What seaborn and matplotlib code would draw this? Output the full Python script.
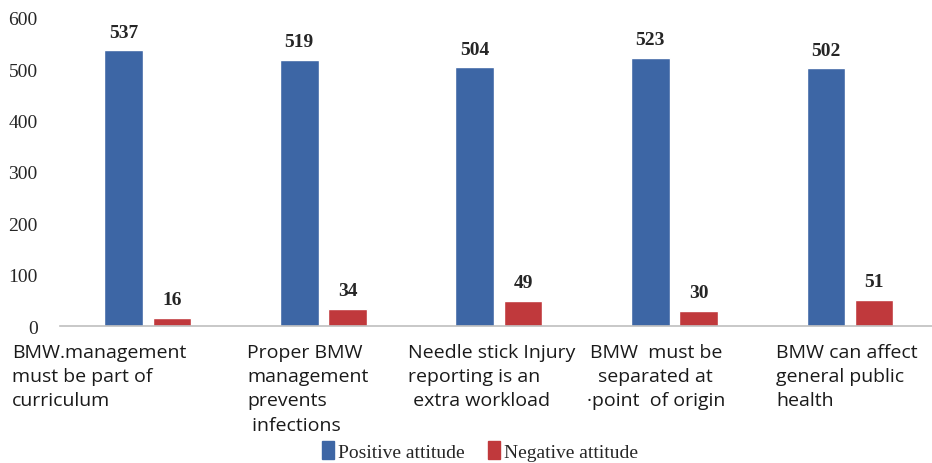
import matplotlib
matplotlib.use("Agg")
import matplotlib.pyplot as plt
import seaborn as sns
import pandas as pd

# data
categories = [
    "BMW.management\nmust be part of\ncurriculum",
    "Proper BMW\nmanagement\nprevents\n infections",
    "Needle stick Injury\nreporting is an\n extra workload",
    "BMW  must be\nseparated at\n\u00b7point  of origin",
    "BMW can affect\ngeneral public\nhealth",
]
positive = [537, 519, 504, 523, 502]
negative = [16, 34, 49, 30, 51]
series = ["Positive attitude", "Negative attitude"]
colors = ["#3D66A5", "#C0393C"]

# label placement (left edge offset from group centre, in category units)
label_dx = [-0.775, -0.435, -0.52, -0.50, -0.42]
label_ma = ["left", "left", "left", "center", "left"]

df = pd.DataFrame({
    "cat": list(range(len(categories))) * 2,
    "value": positive + negative,
    "series": [series[0]] * len(positive) + [series[1]] * len(negative),
})

sns.set_style("white")
fig = plt.figure(figsize=(9.32, 4.64), dpi=100)
ax = fig.add_axes([60 / 932, 1 - 327 / 464, (932 - 60) / 932, (327 - 19) / 464])

sns.barplot(data=df, x="cat", y="value", hue="series", palette=colors,
            width=0.55, gap=0.2, saturation=1, ax=ax, legend=False)

for cont in ax.containers:
    ax.bar_label(cont, padding=7, fontsize=14, fontweight="bold",
                 family="Liberation Serif")

ax.set_ylim(0, 600)
ax.set_xlim(-0.5, 4.467)
ax.set_yticks(range(0, 601, 100))
ax.tick_params(axis="y", length=0, pad=16, labelsize=14)
for t in ax.get_yticklabels():
    t.set_family("Liberation Serif")
ax.set_xticks([])
ax.set_xlabel("")
ax.set_ylabel("")
for side in ["top", "right", "left"]:
    ax.spines[side].set_visible(False)
ax.spines["bottom"].set_color("#BFBFBF")
ax.spines["bottom"].set_linewidth(1.2)

for i, lab in enumerate(categories):
    ax.annotate(lab, xy=(i + label_dx[i], 0), xycoords=("data", "axes fraction"),
                xytext=(0, -12), textcoords="offset points",
                ha="left", va="top", multialignment=label_ma[i],
                fontsize=14, family="Open Sans", linespacing=1.45,
                color="#1a1a1a", annotation_clip=False)

handles = [plt.Rectangle((0, 0), 1, 1, color=c) for c in colors]
fig.legend(handles, series, loc="center", bbox_to_anchor=(480 / 932, 1 - 452 / 464),
           ncol=2, frameon=False, handlelength=0.6, handleheight=1.0,
           handletextpad=0.2, columnspacing=1.2,
           prop={"family": "Liberation Serif", "size": 14})

fig.savefig("out.png", dpi=100)
